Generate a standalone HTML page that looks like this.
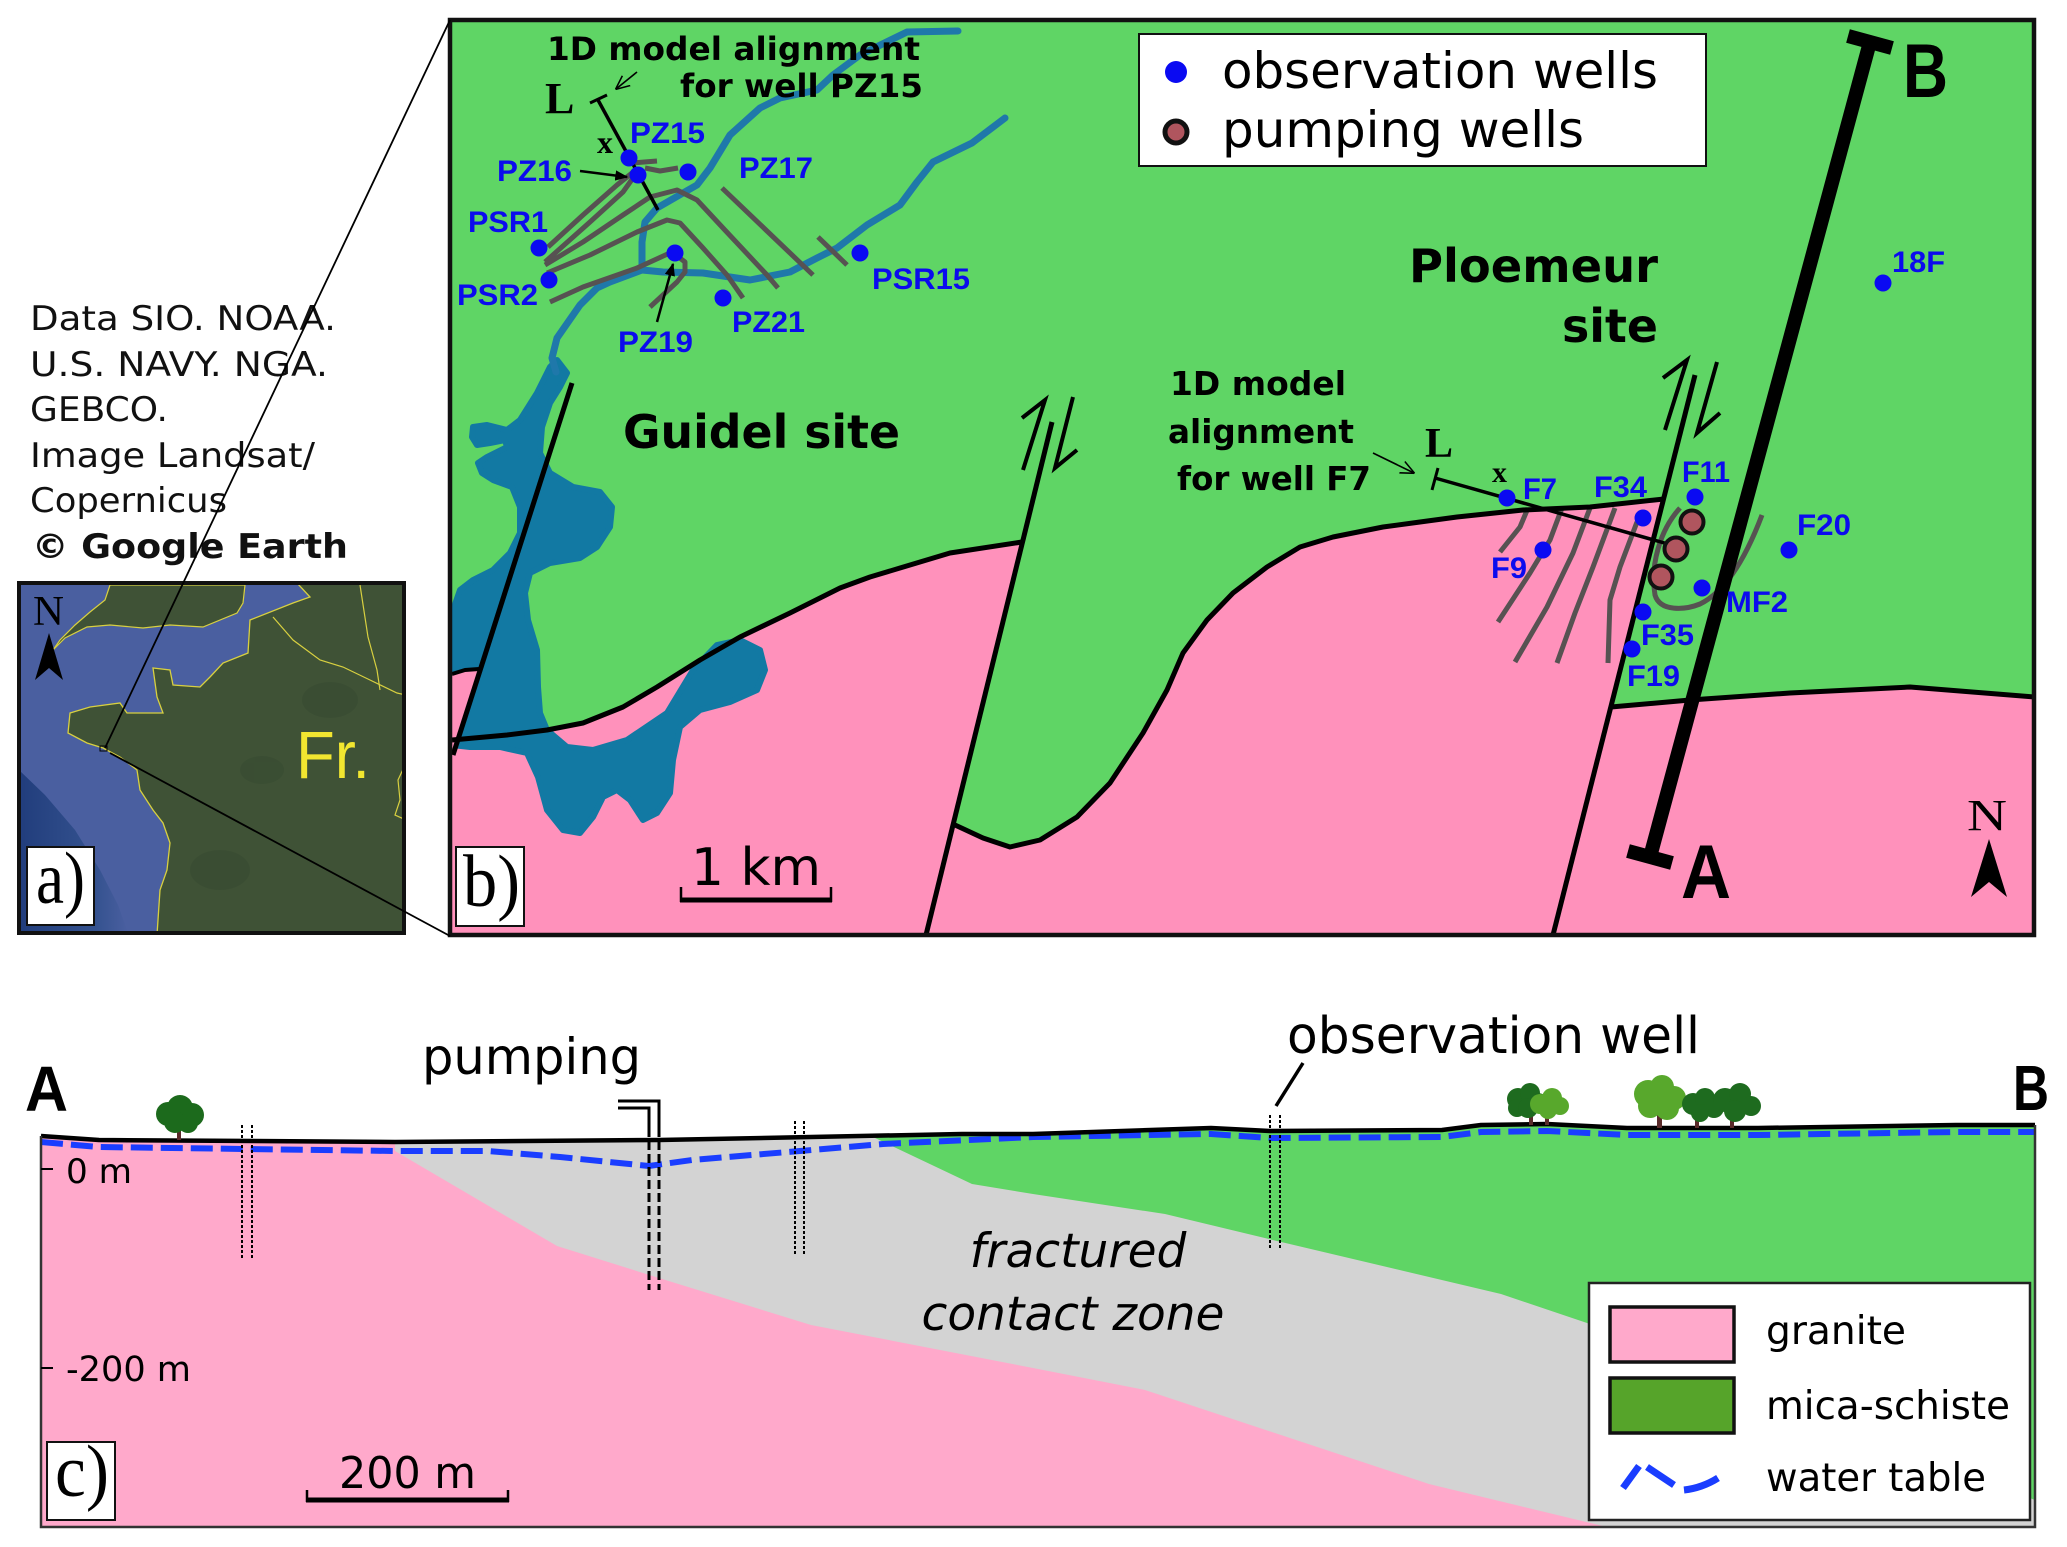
<!DOCTYPE html>
<html><head><meta charset="utf-8"><style>
html,body{margin:0;padding:0;background:#fff;}
svg{display:block;}
</style></head><body>
<svg xmlns="http://www.w3.org/2000/svg" width="2067" height="1547" viewBox="0 0 2067 1547">
<defs>
 <marker id="fa" viewBox="0 0 10 10" refX="9" refY="5" markerWidth="13" markerHeight="13" markerUnits="userSpaceOnUse" orient="auto"><path d="M0,1 L10,5 L0,9 z" fill="#000"/></marker>
 <marker id="oa" viewBox="0 0 10 10" refX="9.5" refY="5" markerWidth="14" markerHeight="14" markerUnits="userSpaceOnUse" orient="auto"><path d="M0,0.5 L10,5 L0,9.5" fill="none" stroke="#000" stroke-width="1.1"/></marker>
 <linearGradient id="deep" x1="0" y1="0" x2="1" y2="0">
  <stop offset="0" stop-color="#213d7c"/><stop offset="0.7" stop-color="#34528f"/><stop offset="1" stop-color="#4a5fa0"/>
 </linearGradient>
 <clipPath id="clipA"><rect x="19" y="583" width="385" height="350"/></clipPath>
</defs>

<!-- ===== attribution text ===== -->
<g font-family="'DejaVu Sans', sans-serif" font-size="34" fill="#111">
 <text x="30" y="330" textLength="306" lengthAdjust="spacingAndGlyphs">Data SIO. NOAA.</text>
 <text x="30" y="376" textLength="298" lengthAdjust="spacingAndGlyphs">U.S. NAVY. NGA.</text>
 <text x="30" y="421" textLength="138" lengthAdjust="spacingAndGlyphs">GEBCO.</text>
 <text x="30" y="467" textLength="285" lengthAdjust="spacingAndGlyphs">Image Landsat/</text>
 <text x="30" y="512" textLength="197" lengthAdjust="spacingAndGlyphs">Copernicus</text>
 <text x="32" y="558" font-weight="bold" textLength="316" lengthAdjust="spacingAndGlyphs">© Google Earth</text>
</g>

<!-- ===== panel a map ===== -->
<g clip-path="url(#clipA)">
 <rect x="19" y="583" width="385" height="350" fill="#4a5fa0"/>
 <polygon points="19,770 45,795 75,830 100,870 118,905 128,933 19,933" fill="url(#deep)"/>
 <!-- UK -->
 <polygon points="110,585 245,585 243,603 237,613 203,627 170,625 143,628 110,625 87,627 65,638 53,650 60,640 75,625 90,612 105,600" fill="#3f5236" stroke="#d8d040" stroke-width="1.2"/>
 <!-- continent -->
 <polygon points="297,583 406,583 406,935 157,935 160,890 167,870 170,843 163,823 153,810 140,790 137,770 120,757 103,748 87,743 68,733 70,713 90,707 120,703 127,713 163,713 157,697 153,668 170,670 173,685 200,687 210,677 223,663 248,653 250,620 293,603 310,597" fill="#3f5236" stroke="#d8d040" stroke-width="1.3"/>
 <g fill="#354830" opacity="0.4">
  <ellipse cx="262" cy="770" rx="22" ry="14"/>
  <ellipse cx="330" cy="700" rx="28" ry="18"/>
  <ellipse cx="220" cy="870" rx="30" ry="20"/>
 </g>
 <polyline points="273,617 293,640 320,660 343,667 370,680 397,693 406,695" fill="none" stroke="#d8d040" stroke-width="1.2"/>
 <polyline points="360,585 368,637 377,670 380,690" fill="none" stroke="#d8d040" stroke-width="1.2"/>
 <polyline points="406,763 398,780 400,800 395,815 406,820" fill="none" stroke="#d8d040" stroke-width="1.2"/>
 <!-- N arrow -->
 <text x="33" y="625" font-family="'Liberation Serif', serif" font-size="42" fill="#000" textLength="31" lengthAdjust="spacingAndGlyphs">N</text>
 <polygon points="49,633 63,680 49,668 35,680" fill="#000"/>
 <!-- Fr. -->
 <text x="296" y="778" font-family="'Liberation Sans', sans-serif" font-size="67" fill="#f2e630" textLength="74" lengthAdjust="spacingAndGlyphs">Fr.</text>
 <rect x="100" y="746" width="7" height="5" fill="none" stroke="#000" stroke-width="1"/>
</g>
<rect x="19" y="583" width="385" height="350" fill="none" stroke="#111" stroke-width="4"/>
<rect x="27" y="847" width="67" height="78" fill="#fff" stroke="#111" stroke-width="2"/>
<text x="36" y="903" font-family="'Liberation Serif', serif" font-size="74" fill="#000" textLength="49" lengthAdjust="spacingAndGlyphs">a)</text>

<!-- ===== panel b ===== -->
<rect x="450" y="20" width="1584" height="915" fill="#5fd565"/>
<!-- pink P1 -->
<polygon points="452,740 507,735 547,730 583,723 623,707 657,687 700,660 740,637 790,613 840,588 870,577 900,568 950,553 1022,542 926,935 452,935" fill="#ff91bb"/>
<!-- pink P2 -->
<polygon points="955,825 983,838 1010,847 1040,840 1077,817 1110,783 1143,733 1167,690 1183,653 1207,620 1233,593 1267,567 1300,547 1333,537 1383,527 1420,522 1457,517 1523,510 1590,507 1664,499 1553,935 926,935" fill="#ff91bb"/>
<!-- pink P3 -->
<polygon points="1611,707 1690,700 1790,693 1910,687 2034,697 2034,935 1553,935" fill="#ff91bb"/>

<!-- lake -->
<polygon points="557,360 567,373 560,387 550,403 542,427 540,453 550,473 573,487 600,492 612,507 610,527 597,547 580,558 550,563 530,573 525,593 528,620 537,650 538,687 540,713 547,730 567,747 593,750 627,740 667,713 693,670 717,645 740,640 760,650 765,670 757,690 730,702 700,710 680,727 673,760 670,793 657,813 643,820 630,800 617,790 603,797 593,817 580,833 563,830 547,810 538,777 527,753 500,747 470,747 452,745 452,613 460,590 473,580 493,570 510,553 520,533 520,507 512,487 493,480 482,473 478,463 487,457 507,447 505,440 490,443 477,445 472,437 473,427 487,425 507,430 520,420 537,393 550,367" fill="#1279a3" stroke="#1279a3" stroke-width="6" stroke-linejoin="round"/>
<polygon points="452,674 465,670 481,668 453,755 452,755" fill="#ff91bb"/>

<!-- rivers -->
<g fill="none" stroke="#1f78aa" stroke-width="7" stroke-linejoin="round" stroke-linecap="round">
 <polyline points="958,31 907,32 860,55 833,75 817,90 780,98 760,108 730,135 710,168 697,185 683,193 657,208 645,222 642,242 642,270 610,282 597,288 580,305 557,338 552,358 556,372"/>
 <polyline points="1005,118 972,143 933,162 917,182 900,205 867,225 837,248 817,258 790,272 750,280 703,273 663,272 642,270"/>
</g>

<!-- fractures Guidel -->
<g fill="none" stroke="#575252" stroke-width="5" stroke-linejoin="round">
 <polyline points="632,163 657,161"/>
 <polyline points="645,168 660,171 678,168"/>
 <polyline points="548,247 583,215 617,185 632,173"/>
 <polyline points="545,262 590,222 623,192 633,178"/>
 <polyline points="545,265 583,242 623,215 650,197 677,190 697,200 723,228 767,275 778,288"/>
 <polyline points="547,273 590,255 637,232 667,220 680,223 703,248 727,275 743,298"/>
 <polyline points="550,302 583,287 637,268 672,252 685,262 685,272 677,282 650,307"/>
 <polyline points="722,188 813,275"/>
 <polyline points="818,237 847,265"/>
</g>
<!-- fractures Ploemeur -->
<g fill="none" stroke="#575252" stroke-width="5" stroke-linejoin="round">
 <polyline points="1528,508 1520,527 1500,552"/>
 <polyline points="1562,508 1550,540 1530,573 1498,622"/>
 <polyline points="1590,508 1573,553 1547,607 1515,662"/>
 <polyline points="1615,508 1593,567 1575,613 1557,663"/>
 <polyline points="1637,522 1620,567 1610,600 1608,663"/>
 <path d="M1680,508 C1660,530 1650,565 1655,595 C1660,612 1685,610 1700,604 C1725,592 1745,560 1762,515"/>
</g>

<!-- geology black lines -->
<g fill="none" stroke="#000" stroke-width="5" stroke-linejoin="round">
 <polyline points="452,740 507,735 547,730 583,723 623,707 657,687 700,660 740,637 790,613 840,588 870,577 900,568 950,553 1022,542"/>
 <polyline points="955,825 983,838 1010,847 1040,840 1077,817 1110,783 1143,733 1167,690 1183,653 1207,620 1233,593 1267,567 1300,547 1333,537 1383,527 1420,522 1457,517 1523,510 1590,507 1664,499"/>
 <polyline points="1611,707 1690,700 1790,693 1910,687 2034,697"/>
 <line x1="572" y1="383" x2="453" y2="755"/>
 <polyline points="452,674 465,670 479,669" stroke-width="4"/>
 <line x1="1052" y1="422" x2="926" y2="935"/>
 <line x1="1695" y1="375" x2="1553" y2="935"/>
</g>
<!-- fault displacement arrows -->
<g fill="none" stroke="#000" stroke-width="4">
 <polyline points="1023,470 1045,400 1022,418"/>
 <polyline points="1073,397 1055,468 1077,450"/>
 <polyline points="1665,430 1687,360 1663,378"/>
 <polyline points="1717,362 1697,433 1720,413"/>
</g>

<!-- AB line -->
<g stroke="#000" stroke-width="14" fill="none">
 <line x1="1870" y1="42" x2="1650" y2="857"/>
 <line x1="1848" y1="36" x2="1892" y2="48"/>
 <line x1="1628" y1="851" x2="1672" y2="863"/>
</g>
<g font-family="'Liberation Sans', sans-serif" font-weight="bold" font-size="76" fill="#000">
 <text x="1903" y="97" textLength="45" lengthAdjust="spacingAndGlyphs">B</text>
 <text x="1681" y="898" textLength="50" lengthAdjust="spacingAndGlyphs">A</text>
</g>

<!-- alignment lines -->
<g stroke="#000" fill="none">
 <line x1="598" y1="100" x2="658" y2="210" stroke-width="3.5"/>
 <line x1="590" y1="103" x2="607" y2="95" stroke-width="3"/>
 <line x1="637" y1="72" x2="616" y2="89" stroke-width="1.6" marker-end="url(#oa)"/>
 <line x1="580" y1="171" x2="627" y2="177" stroke-width="2.5" marker-end="url(#fa)"/>
 <line x1="657" y1="322" x2="673" y2="264" stroke-width="2.5" marker-end="url(#fa)"/>
 <line x1="1435" y1="478" x2="1682" y2="548" stroke-width="3.5"/>
 <line x1="1432" y1="490" x2="1438" y2="468" stroke-width="3"/>
 <line x1="1373" y1="453" x2="1414" y2="473" stroke-width="1.6" marker-end="url(#oa)"/>
</g>
<g font-family="'Liberation Serif', serif" font-weight="bold" fill="#000">
 <text x="545" y="113" font-size="44">L</text>
 <text x="597" y="153" font-size="32">x</text>
 <text x="1425" y="457" font-size="42">L</text>
 <text x="1492" y="482" font-size="30">x</text>
</g>

<!-- pumping wells -->
<g fill="#b0555e" stroke="#111" stroke-width="4">
 <circle cx="1692" cy="522" r="11.5"/>
 <circle cx="1676" cy="549" r="11.5"/>
 <circle cx="1661" cy="577" r="11.5"/>
</g>
<!-- observation wells -->
<g fill="#0a0af2">
 <circle cx="629" cy="158" r="8.5"/><circle cx="638" cy="175" r="8.5"/><circle cx="688" cy="172" r="8.5"/>
 <circle cx="539" cy="248" r="8.5"/><circle cx="549" cy="280" r="8.5"/><circle cx="675" cy="253" r="8.5"/>
 <circle cx="723" cy="298" r="8.5"/><circle cx="860" cy="253" r="8.5"/>
 <circle cx="1507" cy="498" r="8.5"/><circle cx="1643" cy="518" r="8.5"/><circle cx="1695" cy="497" r="8.5"/>
 <circle cx="1543" cy="550" r="8.5"/><circle cx="1789" cy="550" r="8.5"/><circle cx="1702" cy="588" r="8.5"/>
 <circle cx="1643" cy="612" r="8.5"/><circle cx="1632" cy="649" r="8.5"/><circle cx="1883" cy="283" r="8.5"/>
</g>
<g font-family="'Liberation Sans', sans-serif" font-weight="bold" font-size="30" fill="#0b0bee">
 <text x="630" y="143" textLength="75" lengthAdjust="spacingAndGlyphs">PZ15</text>
 <text x="497" y="181" textLength="75" lengthAdjust="spacingAndGlyphs">PZ16</text>
 <text x="739" y="178" textLength="74" lengthAdjust="spacingAndGlyphs">PZ17</text>
 <text x="468" y="232" textLength="80" lengthAdjust="spacingAndGlyphs">PSR1</text>
 <text x="457" y="305" textLength="81" lengthAdjust="spacingAndGlyphs">PSR2</text>
 <text x="618" y="352" textLength="75" lengthAdjust="spacingAndGlyphs">PZ19</text>
 <text x="732" y="332" textLength="73" lengthAdjust="spacingAndGlyphs">PZ21</text>
 <text x="872" y="289" textLength="98" lengthAdjust="spacingAndGlyphs">PSR15</text>
 <text x="1523" y="499" textLength="34" lengthAdjust="spacingAndGlyphs">F7</text>
 <text x="1594" y="497" textLength="53" lengthAdjust="spacingAndGlyphs">F34</text>
 <text x="1682" y="482" textLength="48" lengthAdjust="spacingAndGlyphs">F11</text>
 <text x="1491" y="578" textLength="36" lengthAdjust="spacingAndGlyphs">F9</text>
 <text x="1797" y="535" textLength="54" lengthAdjust="spacingAndGlyphs">F20</text>
 <text x="1726" y="612" textLength="62" lengthAdjust="spacingAndGlyphs">MF2</text>
 <text x="1641" y="645" textLength="53" lengthAdjust="spacingAndGlyphs">F35</text>
 <text x="1627" y="686" textLength="53" lengthAdjust="spacingAndGlyphs">F19</text>
 <text x="1892" y="272" textLength="53" lengthAdjust="spacingAndGlyphs">18F</text>
</g>

<!-- panel b titles -->
<g font-family="'DejaVu Sans', sans-serif" font-weight="bold" fill="#000">
 <text x="547" y="60" font-size="32" textLength="373" lengthAdjust="spacingAndGlyphs">1D model alignment</text>
 <text x="680" y="97" font-size="32" textLength="243" lengthAdjust="spacingAndGlyphs">for well PZ15</text>
 <text x="623" y="448" font-size="46" textLength="277" lengthAdjust="spacingAndGlyphs">Guidel site</text>
 <text x="1409" y="282" font-size="46" textLength="249" lengthAdjust="spacingAndGlyphs">Ploemeur</text>
 <text x="1562" y="342" font-size="46" textLength="96" lengthAdjust="spacingAndGlyphs">site</text>
 <text x="1170" y="395" font-size="33" textLength="176" lengthAdjust="spacingAndGlyphs">1D model</text>
 <text x="1168" y="443" font-size="33" textLength="186" lengthAdjust="spacingAndGlyphs">alignment</text>
 <text x="1177" y="490" font-size="33" textLength="194" lengthAdjust="spacingAndGlyphs">for well F7</text>
</g>

<!-- legend b -->
<rect x="1139" y="34" width="567" height="132" fill="#fff" stroke="#111" stroke-width="2"/>
<circle cx="1176" cy="72" r="11" fill="#0a0af2"/>
<circle cx="1176" cy="132" r="11" fill="#b0555e" stroke="#111" stroke-width="5"/>
<g font-family="'DejaVu Sans', sans-serif" font-size="50" fill="#000">
 <text x="1222" y="88" textLength="436" lengthAdjust="spacingAndGlyphs">observation wells</text>
 <text x="1222" y="147" textLength="362" lengthAdjust="spacingAndGlyphs">pumping wells</text>
</g>

<!-- scale bar 1 km -->
<g stroke="#000" fill="none">
 <line x1="680" y1="900" x2="832" y2="900" stroke-width="5"/>
 <line x1="681" y1="887" x2="681" y2="902" stroke-width="2.5"/>
 <line x1="831" y1="887" x2="831" y2="902" stroke-width="2.5"/>
</g>
<text x="691" y="885" font-family="'DejaVu Sans', sans-serif" font-size="52" fill="#000" textLength="130" lengthAdjust="spacingAndGlyphs">1 km</text>

<!-- N arrow b -->
<text x="1967" y="830" font-family="'Liberation Serif', serif" font-size="44" fill="#000" textLength="40" lengthAdjust="spacingAndGlyphs">N</text>
<polygon points="1989,839 2007,897 1989,882 1971,897" fill="#000"/>

<!-- b) label -->
<rect x="456" y="847" width="68" height="79" fill="#fff" stroke="#111" stroke-width="2"/>
<text x="463" y="906" font-family="'Liberation Serif', serif" font-size="74" fill="#000" textLength="57" lengthAdjust="spacingAndGlyphs">b)</text>

<rect x="450" y="20" width="1584" height="915" fill="none" stroke="#111" stroke-width="4.5"/>

<!-- zoom lines -->
<g stroke="#000" stroke-width="1.8">
 <line x1="105" y1="748" x2="450" y2="20"/>
 <line x1="110" y1="753" x2="450" y2="936"/>
</g>

<!-- ===== panel c ===== -->
<polygon points="41,1136 99,1140 395,1142 659,1140 962,1134 1033,1134 1211,1128 1270,1131 1442,1130 1481,1125 1547,1124 1627,1128 1758,1128 1956,1125 2035,1125 2035,1527 41,1527" fill="#d3d3d3"/>
<polygon points="873,1137 962,1134 1033,1134 1211,1128 1270,1131 1442,1130 1481,1125 1547,1124 1627,1128 1758,1128 1956,1125 2035,1125 2035,1500 1587,1323 1501,1294 1277,1241 1165,1214 1033,1194 972,1184" fill="#5fd565"/>
<polygon points="41,1136 99,1140 395,1142 395,1151 557,1246 659,1278 811,1325 1033,1368 1145,1390 1429,1484 1607,1527 41,1527" fill="#ffa9cb"/>

<!-- water table -->
<polyline points="41,1142 99,1147 395,1151 488,1151 560,1157 649,1166 692,1160 800,1151 883,1144 1033,1137 1211,1134 1270,1138 1442,1137 1481,1132 1547,1131 1627,1135 1758,1135 1956,1132 2035,1132" fill="none" stroke="#1a3dff" stroke-width="6" stroke-dasharray="22 8"/>
<!-- ground -->
<polyline points="41,1136 99,1140 395,1142 659,1140 962,1134 1033,1134 1211,1128 1270,1131 1442,1130 1481,1125 1547,1124 1627,1128 1758,1128 1956,1125 2035,1125" fill="none" stroke="#000" stroke-width="4.5" stroke-linejoin="round"/>
<!-- frame -->
<polyline points="41,1136 41,1527 2035,1527 2035,1125" fill="none" stroke="#333" stroke-width="2.5"/>

<!-- wells in c -->
<g stroke="#000" stroke-width="2" stroke-dasharray="3 2" fill="none">
 <line x1="242" y1="1125" x2="242" y2="1259"/><line x1="252" y1="1125" x2="252" y2="1259"/>
 <line x1="795" y1="1121" x2="795" y2="1256"/><line x1="804" y1="1121" x2="804" y2="1256"/>
 <line x1="1270" y1="1115" x2="1270" y2="1248"/><line x1="1280" y1="1115" x2="1280" y2="1248"/>
</g>
<g stroke="#000" stroke-width="3" stroke-dasharray="9 4" fill="none">
 <line x1="649" y1="1128" x2="649" y2="1290"/><line x1="659" y1="1128" x2="659" y2="1290"/>
</g>
<polyline points="618,1101 659,1101 659,1130" fill="none" stroke="#000" stroke-width="3"/>
<polyline points="618,1108 649,1108 649,1130" fill="none" stroke="#000" stroke-width="3"/>
<line x1="1303" y1="1063" x2="1276" y2="1106" stroke="#000" stroke-width="3.5"/>

<!-- trees -->
<g>
 <rect x="177" y="1122" width="4" height="18" fill="#5a2a2a"/>
 <g fill="#1c6a1c"><circle cx="168" cy="1114" r="12"/><circle cx="180" cy="1108" r="13"/><circle cx="192" cy="1115" r="12"/><circle cx="175" cy="1122" r="11"/><circle cx="188" cy="1123" r="10"/></g>
 <rect x="1529" y="1110" width="4" height="15" fill="#5a2a2a"/>
 <g fill="#1e6b1f"><circle cx="1518" cy="1099" r="11"/><circle cx="1530" cy="1093" r="10"/><circle cx="1538" cy="1103" r="10"/><circle cx="1517" cy="1108" r="9"/><circle cx="1528" cy="1108" r="10"/></g>
 <rect x="1545" y="1110" width="4" height="15" fill="#5a2a2a"/>
 <g fill="#58a82c"><circle cx="1540" cy="1104" r="10"/><circle cx="1552" cy="1098" r="10"/><circle cx="1560" cy="1106" r="9"/><circle cx="1548" cy="1110" r="9"/></g>
 <rect x="1657" y="1108" width="5" height="20" fill="#5a2a2a"/>
 <g fill="#58a82c"><circle cx="1648" cy="1094" r="14"/><circle cx="1662" cy="1087" r="12"/><circle cx="1674" cy="1098" r="12"/><circle cx="1650" cy="1106" r="12"/><circle cx="1667" cy="1108" r="12"/></g>
 <rect x="1695" y="1113" width="4" height="15" fill="#5a2a2a"/>
 <g fill="#1e6b1f"><circle cx="1693" cy="1104" r="11"/><circle cx="1705" cy="1098" r="10"/><circle cx="1714" cy="1108" r="10"/><circle cx="1700" cy="1113" r="9"/></g>
 <rect x="1730" y="1112" width="4" height="16" fill="#5a2a2a"/>
 <g fill="#1e6b1f"><circle cx="1725" cy="1100" r="12"/><circle cx="1740" cy="1094" r="11"/><circle cx="1751" cy="1106" r="10"/><circle cx="1735" cy="1111" r="11"/></g>
</g>

<!-- panel c texts -->
<g font-family="'Liberation Sans', sans-serif" font-weight="bold" font-size="64" fill="#000">
 <text x="25" y="1111" textLength="43" lengthAdjust="spacingAndGlyphs">A</text>
 <text x="2013" y="1110" textLength="36" lengthAdjust="spacingAndGlyphs">B</text>
</g>
<g font-family="'DejaVu Sans', sans-serif" fill="#000">
 <text x="422" y="1074" font-size="50" textLength="219" lengthAdjust="spacingAndGlyphs">pumping</text>
 <text x="1287" y="1053" font-size="51" textLength="413" lengthAdjust="spacingAndGlyphs">observation well</text>
 <text x="66" y="1183" font-size="34" textLength="66" lengthAdjust="spacingAndGlyphs">0 m</text>
 <text x="66" y="1381" font-size="35" textLength="125" lengthAdjust="spacingAndGlyphs">-200 m</text>
 <text x="339" y="1488" font-size="44" textLength="137" lengthAdjust="spacingAndGlyphs">200 m</text>
 <text x="1078" y="1267" font-size="47" font-style="italic" text-anchor="middle">fractured</text>
 <text x="1073" y="1330" font-size="47" font-style="italic" text-anchor="middle">contact zone</text>
</g>
<g stroke="#000" stroke-width="2">
 <line x1="41" y1="1169" x2="53" y2="1169"/>
 <line x1="41" y1="1368" x2="53" y2="1368"/>
</g>
<!-- 200 m scale -->
<g stroke="#000" fill="none">
 <line x1="306" y1="1500" x2="509" y2="1500" stroke-width="5"/>
 <line x1="307" y1="1490" x2="307" y2="1502" stroke-width="2.5"/>
 <line x1="508" y1="1490" x2="508" y2="1502" stroke-width="2.5"/>
</g>
<!-- c) label -->
<rect x="47" y="1442" width="68" height="78" fill="#fff" stroke="#111" stroke-width="2"/>
<text x="55" y="1496" font-family="'Liberation Serif', serif" font-size="74" fill="#000" textLength="54" lengthAdjust="spacingAndGlyphs">c)</text>

<!-- legend c -->
<rect x="1589" y="1283" width="441" height="237" fill="#fff" stroke="#222" stroke-width="2.5"/>
<rect x="1610" y="1307" width="124" height="55" fill="#ffa9cb" stroke="#111" stroke-width="3.5"/>
<rect x="1610" y="1378" width="124" height="55" fill="#56a42a" stroke="#111" stroke-width="3.5"/>
<g fill="none" stroke="#1a3dff" stroke-width="7">
 <line x1="1623" y1="1488" x2="1639" y2="1466"/>
 <line x1="1647" y1="1467" x2="1674" y2="1485"/>
 <path d="M1684,1490 Q1702,1488 1718,1478"/>
</g>
<g font-family="'DejaVu Sans', sans-serif" font-size="39" fill="#000">
 <text x="1766" y="1344" textLength="140" lengthAdjust="spacingAndGlyphs">granite</text>
 <text x="1766" y="1419" textLength="244" lengthAdjust="spacingAndGlyphs">mica-schiste</text>
 <text x="1766" y="1491" textLength="220" lengthAdjust="spacingAndGlyphs">water table</text>
</g>
</svg>
</body></html>
